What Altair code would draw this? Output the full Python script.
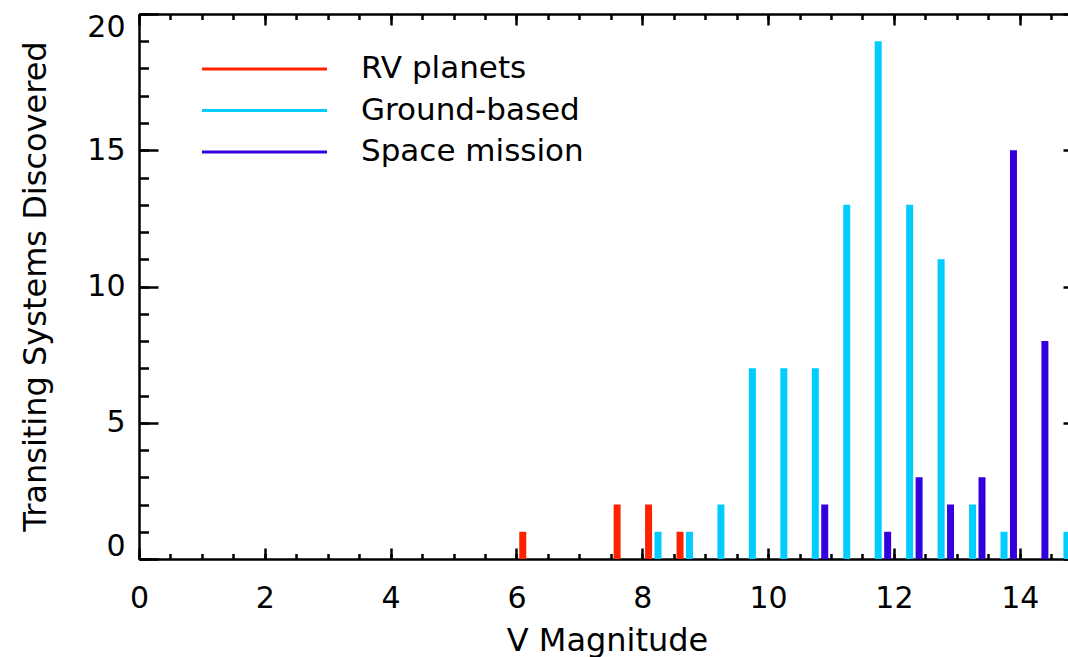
import altair as alt
import pandas as pd

FONT = "DejaVu Sans"

series = ["RV planets", "Ground-based", "Space mission"]
colors = ["#ff2200", "#00ccff", "#3300dd"]

rv_mag = [6.1, 7.6, 8.1, 8.6]
rv_count = [1, 2, 2, 1]
ground_mag = [8.25, 8.75, 9.25, 9.75, 10.25, 10.75, 11.25, 11.75, 12.25, 12.75, 13.25, 13.75, 14.75]
ground_count = [1, 1, 2, 7, 7, 7, 13, 19, 13, 11, 2, 1, 1]
space_mag = [10.9, 11.9, 12.4, 12.9, 13.4, 13.9, 14.4]
space_count = [2, 1, 3, 2, 3, 15, 8]

x_major = [0, 2, 4, 6, 8, 10, 12, 14]
x_minor = [0, 0.5, 1, 1.5, 2, 2.5, 3, 3.5, 4, 4.5, 5, 5.5, 6, 6.5, 7, 7.5,
           8, 8.5, 9, 9.5, 10, 10.5, 11, 11.5, 12, 12.5, 13, 13.5, 14, 14.5]
y_major = [0, 5, 10, 15, 20]
y_minor = list(range(0, 21))

rows = []
for name, mags, counts in [(series[0], rv_mag, rv_count),
                           (series[1], ground_mag, ground_count),
                           (series[2], space_mag, space_count)]:
    for m, c in zip(mags, counts):
        rows.append({"mag": m, "count": c, "series": name})
df = pd.DataFrame(rows)

W, H = 929, 545
xs = alt.Scale(domain=[0, 14.767], nice=False, zero=False)
ys = alt.Scale(domain=[0, 20], nice=False)

main_x = alt.Axis(values=x_major, ticks=False, tickSize=0, grid=False,
                  domainColor="black", domainWidth=2.5,
                  labelFont=FONT, labelFontSize=30, labelPadding=24,
                  labelColor="black", labelFlush=False, format="d",
                  title="V Magnitude", titleFont=FONT, titleFontSize=32,
                  titleFontWeight="normal", titleColor="black",
                  titleX=468, titleY=91, titleBaseline="alphabetic",
                  titleAlign="center")
main_y = alt.Axis(values=y_major, ticks=False, tickSize=0, grid=False,
                  domainColor="black", domainWidth=2.5,
                  labelFont=FONT, labelFontSize=30, labelPadding=14,
                  labelColor="black", labelFlush=True, labelFlushOffset=2,
                  format="d",
                  title="Transiting Systems Discovered", titleFont=FONT,
                  titleFontSize=32, titleFontWeight="normal",
                  titleColor="black", titleX=-94, titleY=272,
                  titleBaseline="alphabetic", titleAngle=270,
                  titleAlign="center")

bars = alt.Chart(df).mark_rule(strokeWidth=7, clip=True).encode(
    x=alt.X("mag:Q", scale=xs, axis=main_x),
    y=alt.Y("count:Q", scale=ys, axis=main_y),
    y2=alt.datum(0),
    stroke=alt.Stroke(
        "series:N",
        scale=alt.Scale(domain=series, range=colors),
        legend=alt.Legend(title=None, orient="none", legendX=110, legendY=39.5,
                          symbolType="M-5,0H5", symbolSize=625,
                          symbolStrokeWidth=3, labelFont=FONT,
                          labelFontSize=31, labelColor="black",
                          labelOffset=81, rowPadding=9.5, padding=0,
                          labelLimit=0),
    ),
)


def tick_axis(orient, offset, values, size, domain=False):
    return alt.Axis(orient=orient, offset=offset, values=values,
                    tickSize=size, tickWidth=2.5, tickColor="black",
                    labels=False, domain=domain, domainColor="black",
                    domainWidth=2.5, grid=False, title=None)


def ghost(xaxis, yaxis):
    return alt.Chart(df).mark_point(opacity=0).encode(
        x=alt.X("mag:Q", scale=xs, axis=xaxis),
        y=alt.Y("count:Q", scale=ys, axis=yaxis),
    )


# inward ticks on bottom and left
t1 = ghost(tick_axis("top", -H, x_major, 11), tick_axis("right", -W, y_major, 19))
t2 = ghost(tick_axis("top", -H, x_minor, 5.5), tick_axis("right", -W, y_minor, 9.5))
# inward ticks on top, and right axis (beyond crop)
t3 = ghost(tick_axis("bottom", -H, x_major, 11, domain=True),
           tick_axis("left", -943, y_major, 19))
t4 = ghost(tick_axis("bottom", -H, x_minor, 5.5), None)

chart = alt.layer(bars, t1, t2, t3, t4).resolve_axis(
    x="independent", y="independent"
).properties(
    width=W, height=H,
    autosize=alt.AutoSizeParams(type="none"),
    padding={"left": 139, "top": 14, "right": 0, "bottom": 98},
).configure_view(stroke=None).configure(background="white")

chart.save("out.html", embed_options={"renderer": "svg", "actions": False})
